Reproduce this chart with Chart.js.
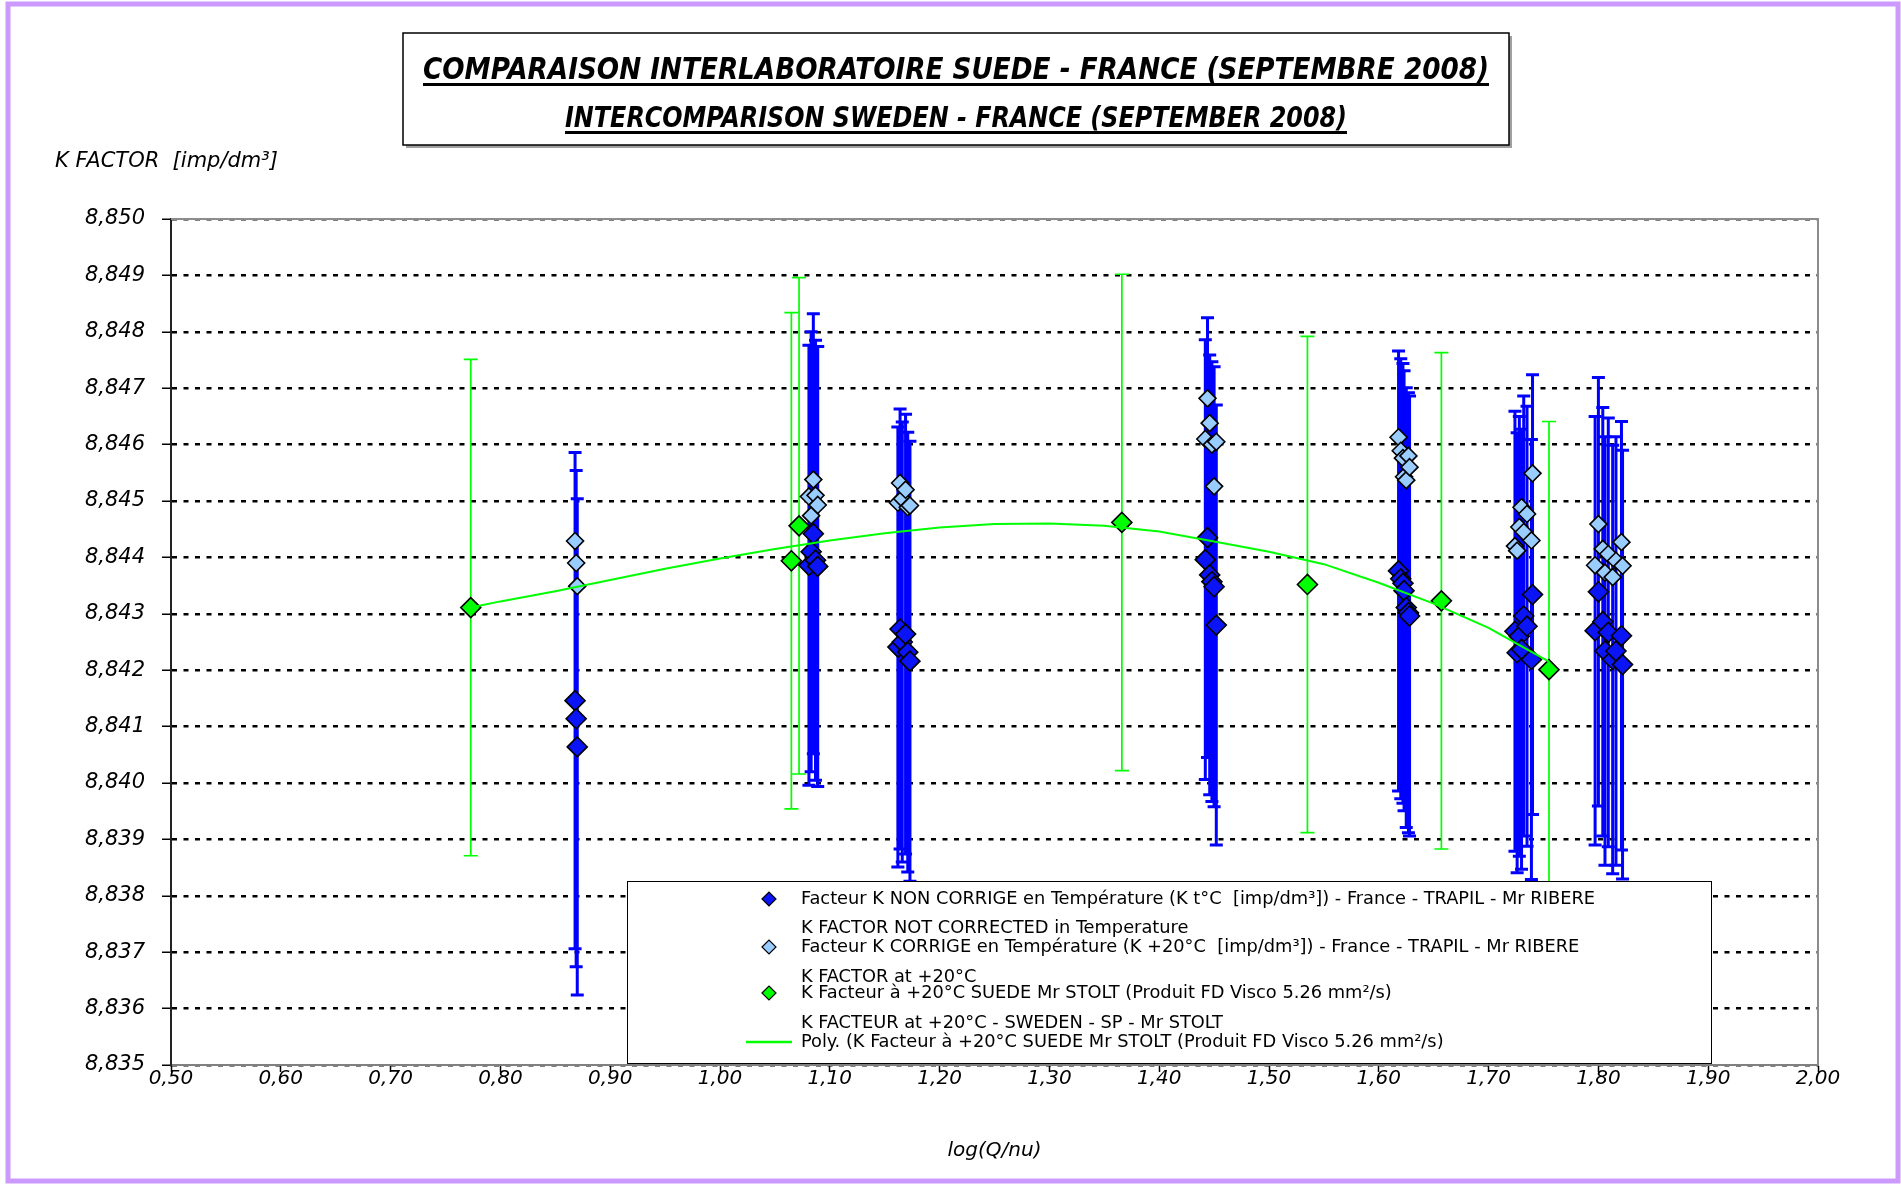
<!DOCTYPE html>
<html>
<head>
<meta charset="utf-8">
<title>Comparaison interlaboratoire Suede - France</title>
<script src="https://cdn.jsdelivr.net/npm/chart.js@4.4.0/dist/chart.umd.min.js"></script>
<style>
    html, body { margin: 0; padding: 0; background: #fff; }
    #wrap { position: relative; width: 1901px; height: 1188px; }
</style>
</head>
<body>
<div id="wrap"><canvas id="kChart"></canvas></div>
<script>
// Axes
const xMin = 0.5, xMax = 2.0, xStep = 0.1;
const yMin = 8.835, yMax = 8.850, yStep = 0.001;

// Mesures France - TRAPIL (abscisse log(Q/nu))
const logQnuFrance = [
    0.868, 0.869, 0.870,
    1.081, 1.083, 1.085, 1.087, 1.089,
    1.162, 1.164, 1.166, 1.169, 1.171, 1.173,
    1.442, 1.444, 1.446, 1.448, 1.450, 1.452,
    1.618, 1.620, 1.622, 1.623, 1.625, 1.627, 1.628,
    1.724, 1.726, 1.728, 1.730, 1.732, 1.735, 1.739, 1.740,
    1.797, 1.800, 1.804, 1.806, 1.809, 1.813, 1.816, 1.821, 1.822
];
const kNonCorrige = [
    8.84146, 8.84114, 8.84064,
    8.84386, 8.84410, 8.84442, 8.84395, 8.84384,
    8.84241, 8.84273, 8.84250, 8.84264, 8.84232, 8.84216,
    8.84396, 8.84435, 8.84369, 8.84357, 8.84348, 8.84280,
    8.84376, 8.84362, 8.84354, 8.84341, 8.84311, 8.84302, 8.84296,
    8.84269, 8.84231, 8.84260, 8.84237, 8.84296, 8.84278, 8.84219, 8.84334,
    8.84270, 8.84339, 8.84286, 8.84234, 8.84267, 8.84219, 8.84234, 8.84261, 8.84210
];
const kCorrige = [
    8.84429, 8.84390, 8.84349,
    8.84508, 8.84474, 8.84538, 8.84510, 8.84493,
    8.84497, 8.84532, 8.84504, 8.84520, 8.84489, 8.84492,
    8.84610, 8.84682, 8.84638, 8.84600, 8.84526, 8.84605,
    8.84613, 8.84589, 8.84576, 8.84543, 8.84537, 8.84580, 8.84560,
    8.84420, 8.84412, 8.84454, 8.84489, 8.84445, 8.84477, 8.84430, 8.84549,
    8.84386, 8.84459, 8.84415, 8.84373, 8.84406, 8.84365, 8.84394, 8.84427, 8.84385
];
// Incertitude (+/-) sur K non corrigé
const incertFrance = [
    0.0044, 0.0044, 0.0044,
    0.0039, 0.0039, 0.0039, 0.0039, 0.0039,
    0.0039, 0.0039, 0.0039, 0.0039, 0.0039, 0.0039,
    0.0039, 0.0039, 0.0039, 0.0039, 0.0039, 0.0039,
    0.0039, 0.0039, 0.0039, 0.0039, 0.0039, 0.0039, 0.0039,
    0.0039, 0.0039, 0.0039, 0.0039, 0.0039, 0.0039, 0.0039, 0.0039,
    0.0038, 0.0038, 0.0038, 0.0038, 0.0038, 0.0038, 0.0038, 0.0038, 0.0038
];

// Mesures Suède - SP
const logQnuSuede = [0.773, 1.065, 1.072, 1.366, 1.535, 1.657, 1.755];
const kSuede = [8.84311, 8.84394, 8.84456, 8.84462, 8.84352, 8.84323, 8.84201];
const incertSuede = [0.0044, 0.0044, 0.0044, 0.0044, 0.0044, 0.0044, 0.0044];

// Courbe de tendance poly.
const trendX = [0.773, 0.80, 0.85, 0.90, 0.95, 1.00, 1.05, 1.10, 1.15, 1.20, 1.25,
    1.30, 1.35, 1.40, 1.45, 1.50, 1.55, 1.60, 1.65, 1.70, 1.755];
const trendK = [8.84311, 8.84322, 8.84340, 8.84360, 8.84380, 8.84398, 8.84415, 8.84430,
    8.84443, 8.84453, 8.84459, 8.84460, 8.84456, 8.84446, 8.84428, 8.84410, 8.84388,
    8.84355, 8.84318, 8.84275, 8.84215];

// Textes
const titre1 = 'COMPARAISON INTERLABORATOIRE SUEDE - FRANCE (SEPTEMBRE 2008)';
const titre2 = 'INTERCOMPARISON SWEDEN - FRANCE (SEPTEMBER 2008)';
const yTitle = 'K FACTOR  [imp/dm³]';
const xTitle = 'log(Q/nu)';
const seriesLabels = [
    'Facteur K NON CORRIGE en Température (K t°C  [imp/dm³]) - France - TRAPIL - Mr RIBERE',
    'Facteur K CORRIGE en Température (K +20°C  [imp/dm³]) - France - TRAPIL - Mr RIBERE',
    'K Facteur à +20°C SUEDE Mr STOLT (Produit FD Visco 5.26 mm²/s)',
    'Poly. (K Facteur à +20°C SUEDE Mr STOLT (Produit FD Visco 5.26 mm²/s)'
];
const seriesSub = [
    'K FACTOR NOT CORRECTED in Temperature',
    'K FACTOR at +20°C',
    'K FACTEUR at +20°C - SWEDEN - SP - Mr STOLT'
];

const narrowFont = '"Liberation Sans Narrow", "DejaVu Sans Condensed", "Roboto", sans-serif';
const axisFont = '"DejaVu Sans", Verdana, sans-serif';

function toPoints(xs, ys) {
    return xs.map((x, i) => ({ x: x, y: ys[i] }));
}

function virgule(v, d) {
    return v.toFixed(d).replace('.', ',');
}

// Texte comprimé horizontalement (police type Calibri absente)
function fillScaled(ctx, text, x, y, sx) {
    ctx.save();
    ctx.translate(x, y);
    ctx.scale(sx, 1);
    ctx.fillText(text, 0, 0);
    ctx.restore();
}

//Barres d'erreur
const errorBarPlugin = {
    id: 'errorBars',
    beforeDatasetsDraw(chart) {
        const { ctx, chartArea, scales } = chart;
        ctx.save();
        ctx.beginPath();
        ctx.rect(chartArea.left, chartArea.top, chartArea.width, chartArea.height);
        ctx.clip();
        chart.data.datasets.forEach((ds) => {
            if (!ds.errors) return;
            ctx.strokeStyle = ds.errorColor;
            ctx.lineWidth = ds.errorWidth;
            ds.data.forEach((p, i) => {
                const px = scales.x.getPixelForValue(p.x);
                const top = scales.y.getPixelForValue(p.y + ds.errors[i]);
                const bot = scales.y.getPixelForValue(p.y - ds.errors[i]);
                const c = ds.errorCap;
                ctx.beginPath();
                ctx.moveTo(px, top); ctx.lineTo(px, bot);
                ctx.moveTo(px - c, top); ctx.lineTo(px + c, top);
                ctx.moveTo(px - c, bot); ctx.lineTo(px + c, bot);
                ctx.stroke();
            });
        });
        ctx.restore();
    }
};

//Titre encadré
function drawTitle(ctx) {
    ctx.fillStyle = '#a0a0a0';
    ctx.fillRect(406, 36, 1106, 112);
    ctx.fillStyle = '#fff';
    ctx.fillRect(403, 33, 1106, 112);
    ctx.strokeStyle = '#000';
    ctx.lineWidth = 1.5;
    ctx.strokeRect(403, 33, 1106, 112);

    ctx.fillStyle = '#000';
    ctx.textAlign = 'center';
    ctx.textBaseline = 'alphabetic';
    const cx = 956;
    ctx.font = 'italic bold 30px ' + narrowFont;
    let sx = 1066 / ctx.measureText(titre1).width;
    fillScaled(ctx, titre1, cx, 79, sx);
    ctx.fillRect(cx - 533, 83, 1066, 3);

    ctx.font = 'italic bold 28px ' + narrowFont;
    sx = 782 / ctx.measureText(titre2).width;
    fillScaled(ctx, titre2, cx, 127, sx);
    ctx.fillRect(cx - 391, 131, 782, 3);
}

//Légende
function drawLegend(chart) {
    const ctx = chart.ctx;
    const bx = 627, by = 881, bw = 1084, bh = 182;
    ctx.fillStyle = '#fff';
    ctx.fillRect(bx, by, bw, bh);
    ctx.strokeStyle = '#000';
    ctx.lineWidth = 1;
    ctx.strokeRect(bx + 0.5, by + 0.5, bw, bh);

    const mainRows = [18, 66, 112, 161];
    const subRows = [47, 96, 142];
    const markX = 769, textX = 801;
    ctx.font = '17.5px ' + narrowFont;
    ctx.textAlign = 'left';
    ctx.textBaseline = 'middle';
    const sx = 794 / ctx.measureText(seriesLabels[0]).width;

    chart.data.datasets.forEach((ds, i) => {
        const y = by + mainRows[i];
        if (ds.showLine) {
            ctx.strokeStyle = ds.borderColor;
            ctx.lineWidth = 2.5;
            ctx.beginPath();
            ctx.moveTo(746, y); ctx.lineTo(792, y);
            ctx.stroke();
        } else {
            ctx.fillStyle = ds.backgroundColor;
            ctx.strokeStyle = '#000';
            ctx.lineWidth = 1.2;
            Chart.helpers.drawPoint(ctx, { pointStyle: 'rectRot', radius: 7, rotation: 0, borderWidth: 1.2 }, markX, y);
        }
        ctx.fillStyle = '#000';
        fillScaled(ctx, seriesLabels[i], textX, y, sx);
    });
    seriesSub.forEach((t, i) => {
        fillScaled(ctx, t, textX, by + subRows[i], sx);
    });
}

const decorPlugin = {
    id: 'decor',
    afterDraw(chart) {
        const ctx = chart.ctx;
        const a = chart.chartArea;
        ctx.save();
        // cadre gris haut / droite
        ctx.strokeStyle = '#8c8c8c';
        ctx.lineWidth = 2;
        ctx.beginPath();
        ctx.moveTo(a.left, a.top);
        ctx.lineTo(a.right, a.top);
        ctx.lineTo(a.right, a.bottom);
        ctx.stroke();

        drawLegend(chart);
        drawTitle(ctx);

        ctx.font = 'italic 21px ' + axisFont;
        ctx.fillStyle = '#000';
        ctx.textAlign = 'left';
        ctx.textBaseline = 'middle';
        ctx.fillText(yTitle, 55, 162);

        // bordure violette
        ctx.strokeStyle = '#cc99ff';
        ctx.lineWidth = 5;
        ctx.strokeRect(8, 4, 1890, 1177);
        ctx.restore();
    }
};

function initChart() {
    const ctx = document.getElementById('kChart').getContext('2d');
    return new Chart(ctx, {
        type: 'scatter',
        data: {
            datasets: [{
                label: seriesLabels[0],
                data: toPoints(logQnuFrance, kNonCorrige),
                pointStyle: 'rectRot',
                pointRadius: 10,
                backgroundColor: '#0a14f5',
                borderColor: '#000',
                borderWidth: 1.6,
                errors: incertFrance,
                errorColor: '#0000ff',
                errorWidth: 3,
                errorCap: 6.5,
                order: 3
            },
            {
                label: seriesLabels[1],
                data: toPoints(logQnuFrance, kCorrige),
                pointStyle: 'rectRot',
                pointRadius: 8.5,
                backgroundColor: '#99ccff',
                borderColor: '#000',
                borderWidth: 1.6,
                order: 2
            },
            {
                label: seriesLabels[2],
                data: toPoints(logQnuSuede, kSuede),
                pointStyle: 'rectRot',
                pointRadius: 10,
                backgroundColor: '#00ff00',
                borderColor: '#000',
                borderWidth: 1.6,
                errors: incertSuede,
                errorColor: '#00ff00',
                errorWidth: 1.7,
                errorCap: 7,
                order: 1
            },
            {
                label: seriesLabels[3],
                data: toPoints(trendX, trendK),
                showLine: true,
                borderColor: '#00ff00',
                borderWidth: 2,
                pointRadius: 0,
                tension: 0,
                order: 0
            }]
        },
        options: {
            responsive: true,
            maintainAspectRatio: false,
            devicePixelRatio: 1,
            animation: false,
            events: [],
            layout: { padding: { top: 219, right: 83, left: 0, bottom: 0 } },
            plugins: {
                legend: { display: false },
                tooltip: { enabled: false }
            },
            scales: {
                x: {
                    type: 'linear',
                    min: xMin,
                    max: xMax,
                    afterFit: (scale) => { scale.height = 123; },
                    ticks: {
                        stepSize: xStep,
                        color: '#000',
                        padding: -5,
                        font: { family: axisFont, style: 'italic', size: 20 },
                        callback: (v) => virgule(v, 2)
                    },
                    grid: {
                        drawOnChartArea: false,
                        drawTicks: true,
                        tickLength: 7,
                        tickColor: '#000',
                        tickWidth: 1.5
                    },
                    border: { display: true, color: '#808080', width: 2 },
                    title: {
                        display: true,
                        text: xTitle,
                        color: '#000',
                        font: { family: axisFont, style: 'italic', size: 20 },
                        padding: { top: 0, bottom: 25 }
                    }
                },
                y: {
                    type: 'linear',
                    min: yMin,
                    max: yMax,
                    afterFit: (scale) => { scale.width = 171; },
                    ticks: {
                        stepSize: yStep,
                        color: '#000',
                        padding: 17,
                        font: { family: axisFont, style: 'italic', size: 21 },
                        callback: (v) => virgule(v, 3)
                    },
                    grid: {
                        color: '#000',
                        lineWidth: 2.5,
                        drawTicks: true,
                        tickLength: 9,
                        tickColor: '#000',
                        tickWidth: 1.5,
                        tickBorderDash: []
                    },
                    border: { display: true, color: '#222', width: 2, dash: [5, 6.5] }
                }
            }
        },
        plugins: [errorBarPlugin, decorPlugin]
    });
}

document.addEventListener('DOMContentLoaded', () => {
    initChart();
});
</script>
</body>
</html>
